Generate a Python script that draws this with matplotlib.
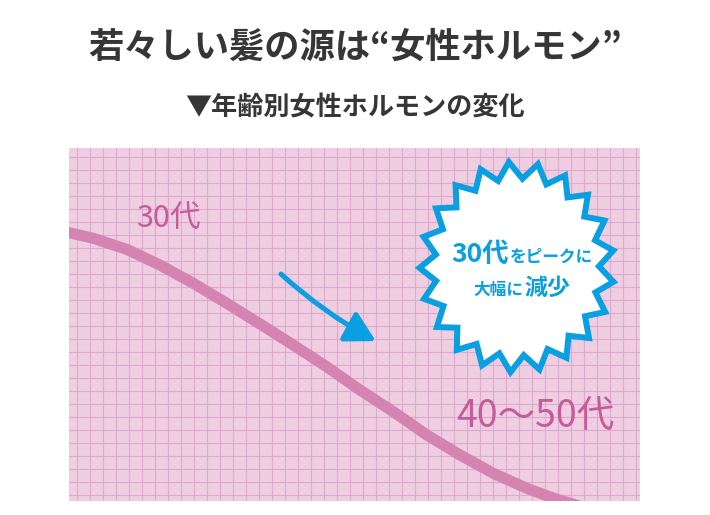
import numpy as np
import matplotlib
matplotlib.use("Agg")
import matplotlib.pyplot as plt
from matplotlib.patches import Polygon, FancyArrowPatch

plt.rcParams["font.family"] = ["Noto Sans CJK JP", "DejaVu Sans"]

# ---- data (grid cells, 13 px each) -----------------------------
age_x = [0, 1.87, 4.44, 7.0, 9.56, 12.13, 14.69, 17.25, 19.82, 22.38,
         24.95, 27.52, 30.08, 32.64, 35.21, 37.23, 39.3]
hormone = [20.64, 20.21, 19.36, 18.15, 16.75, 15.21, 13.62, 12.0, 10.33, 8.54,
           6.87, 5.08, 3.54, 2.13, 0.98, 0.23, -0.4]

title = "若々しい髪の源は“女性ホルモン”"
subtitle = "▼年齢別女性ホルモンの変化"
label_start = "30代"
label_end = "40〜50代"
badge_line1 = ("30代", "をピークに")
badge_line2 = ("大幅に", "減少")

PINK_BG = "#efcee1"
GRID = "#dcaccf"
CURVE = "#d584b1"
PINK_TXT = "#c65b9c"
BLUE = "#0a9fe0"
DARK = "#363636"

fig = plt.figure(figsize=(7.1, 5.15), dpi=100)
fig.patch.set_facecolor("white")

fig.text(0.5, 1 - 47 / 515, title, ha="center", va="center",
         fontsize=25.4, fontweight="bold", color=DARK)
fig.text(0.5, 1 - 108 / 515, subtitle, ha="center", va="center",
         fontsize=18.8, fontweight="bold", color=DARK)

ax = fig.add_axes([69 / 710, 14 / 515, 571 / 710, 353 / 515])
ax.set_facecolor(PINK_BG)
ax.set_xlim(0, 571 / 13)
ax.set_ylim(0, 353 / 13)
ax.set_xticks(np.arange(7.5 / 13, 571 / 13, 1))
ax.set_yticks(np.arange(6.5 / 13, 353 / 13, 1))
ax.grid(True, color=GRID, lw=0.85)
ax.tick_params(length=0, labelbottom=False, labelleft=False)
for s in ax.spines.values():
    s.set_visible(False)
ax.set_axisbelow(True)

# ---- courbe ----------------------------------------------------
ax.plot(age_x, hormone, color=CURVE, lw=8, solid_capstyle="round",
        solid_joinstyle="round", zorder=3)

ax.text(5.2, 21.0, label_start, fontsize=22, color=PINK_TXT,
        ha="left", va="baseline", zorder=4)
ax.text(29.8, 5.69, label_end, fontsize=27, color=PINK_TXT,
        ha="left", va="baseline", zorder=4)

# ---- flèche ----------------------------------------------------
arr = FancyArrowPatch((16.3, 17.46), (23.6, 12.3),
                      arrowstyle="-|>,head_length=0.9,head_width=0.5",
                      mutation_scale=20, connectionstyle="arc3,rad=0.06",
                      color=BLUE, lw=3.6, capstyle="round",
                      shrinkA=0, shrinkB=0, zorder=5)
ax.add_patch(arr)

# ---- étoile ----------------------------------------------------
cx, cy = 34.46, 18.0
rx, ry = 7.5, 8.1
n_pts = 21
a0 = np.deg2rad(77.6)
step = 2 * np.pi / n_pts
ang = a0 + np.arange(2 * n_pts) * step / 2
rad = np.where(np.arange(2 * n_pts) % 2 == 0, 1.0, 0.84)
star = np.column_stack([cx + rx * rad * np.cos(ang), cy + ry * rad * np.sin(ang)])
ax.add_patch(Polygon(star, closed=True, facecolor="white", edgecolor=BLUE,
                     lw=4.3, joinstyle="miter", zorder=6))

ax.text(33.85, 18.38, badge_line1[0], fontsize=19, fontweight="bold",
        color=BLUE, ha="right", va="baseline", zorder=7)
ax.text(33.92, 18.38, badge_line1[1], fontsize=12, fontweight="bold",
        color=BLUE, ha="left", va="baseline", zorder=7)
ax.text(34.95, 15.88, badge_line2[0], fontsize=12, fontweight="bold",
        color=BLUE, ha="right", va="baseline", zorder=7)
ax.text(35.05, 15.88, badge_line2[1], fontsize=16.5, fontweight="bold",
        color=BLUE, ha="left", va="baseline", zorder=7)

fig.savefig("out.png", dpi=100, facecolor=fig.get_facecolor())
